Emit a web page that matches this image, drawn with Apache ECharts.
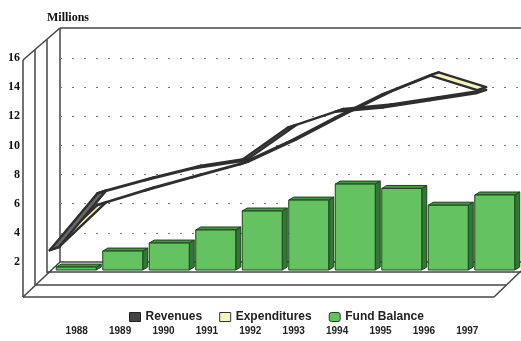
<!DOCTYPE html>
<html>
<head>
<meta charset="utf-8">
<script src="https://cdn.jsdelivr.net/npm/echarts@6/dist/echarts.min.js"></script>
<style>html,body{margin:0;padding:0;background:#fff}#c{width:521px;height:341px}</style>
</head>
<body>
<div id="c"></div>
<script>
// ---- data ----
const years = ['1988','1989','1990','1991','1992','1993','1994','1995','1996','1997'];
const revenues = [2.8, 6.7, 7.6, 8.4, 8.9, 11.2, 12.3, 12.6, 13.1, 13.6];
const expenditures = [2.8, 5.9, 6.9, 7.8, 8.7, 10.2, 11.9, 13.5, 14.8, 13.8];
const fundBalance = [0.2, 1.3, 1.85, 2.75, 4.05, 4.8, 5.9, 5.6, 4.45, 5.15];
const yMin = 2, yMax = 16, yStep = 2;
const unitLabel = 'Millions';

// ---- styles ----
const EDGE = '#444';
const ribbonDepth = [9, -3];
const barDepth = [5, -3];

function ribbon(values, fill) {
  return function (params, api) {
    const i = params.dataIndex;
    if (i >= values.length - 1) return { type: 'group', children: [] };
    const a = api.coord([i, values[i]]);
    const b = api.coord([i + 1, values[i + 1]]);
    const [dx, dy] = ribbonDepth;
    return {
      type: 'polygon',
      shape: { points: [a, b, [b[0] + dx, b[1] + dy], [a[0] + dx, a[1] + dy]] },
      style: { fill: fill, stroke: '#2e2e2e', lineWidth: 2.4, lineJoin: 'round' }
    };
  };
}

function box(params, api) {
  const i = api.value(0), v = api.value(1);
  const top = api.coord([i, v]), base = api.coord([i, 0]);
  const w = api.size([1, 0])[0] * 0.86;
  const xl = top[0] - w / 2, xr = top[0] + w / 2, yt = top[1], yb = base[1];
  const [dx, dy] = barDepth;
  const stroke = '#1f421f';
  return {
    type: 'group',
    children: [
      { type: 'polygon', shape: { points: [[xr, yt], [xr + dx, yt + dy], [xr + dx, yb + dy], [xr, yb]] },
        style: { fill: '#2e7a31', stroke: stroke, lineWidth: 1 } },
      { type: 'polygon', shape: { points: [[xl, yt], [xl + dx, yt + dy], [xr + dx, yt + dy], [xr, yt]] },
        style: { fill: '#3e9a41', stroke: stroke, lineWidth: 1 } },
      { type: 'rect', shape: { x: xl, y: yt, width: w, height: yb - yt },
        style: { fill: '#64c260', stroke: stroke, lineWidth: 1 } }
    ]
  };
}

function seg(x1, y1, x2, y2) {
  return { type: 'line', silent: true, z: 0, shape: { x1, y1, x2, y2 },
    style: { stroke: EDGE, lineWidth: 1.5 } };
}

const chart = echarts.init(document.getElementById('c'), null, { renderer: 'canvas' });
chart.setOption({
  animation: false,
  backgroundColor: '#fff',
  title: {
    text: unitLabel, left: 42, top: 7,
    textStyle: { fontFamily: 'Liberation Serif', fontWeight: 'bold', fontSize: 12, color: '#111' }
  },
  legend: {
    left: 124, top: 306, itemWidth: 11, itemHeight: 9, itemGap: 17, selectedMode: false,
    textStyle: { fontFamily: 'Liberation Sans', fontWeight: 'bold', fontSize: 12, color: '#222' },
    data: [
      { name: 'Revenues', icon: 'rect', itemStyle: { color: '#444', borderColor: '#222', borderWidth: 1 } },
      { name: 'Expenditures', icon: 'rect', itemStyle: { color: '#f4f4c0', borderColor: '#333', borderWidth: 1 } },
      { name: 'Fund Balance', icon: 'roundRect', itemStyle: { color: '#64c260', borderColor: '#1f421f', borderWidth: 1 } }
    ]
  },
  grid: [
    { left: 60, right: 0, top: 58, bottom: 79 },
    { left: 53, right: 3, top: 37, bottom: 71 },
    { left: 26, right: 20, top: 58, bottom: 50 },
    { left: 55, width: 434, top: 300, bottom: 17 }
  ],
  xAxis: [
    { gridIndex: 0, type: 'category', data: years, show: false },
    { gridIndex: 1, type: 'category', data: years, show: false },
    { gridIndex: 2, type: 'category', data: years, show: false },
    { gridIndex: 3, type: 'category', data: years, axisLine: { show: false }, axisTick: { show: false },
      axisLabel: { margin: 2, fontFamily: 'Liberation Sans', fontWeight: 'bold', fontSize: 10, color: '#222' } }
  ],
  yAxis: [
    { gridIndex: 0, type: 'value', min: yMin, max: yMax, interval: yStep,
      axisLine: { show: false }, axisTick: { show: false },
      axisLabel: { margin: 40, fontFamily: 'Liberation Serif', fontWeight: 'bold', fontSize: 12, color: '#111' },
      splitLine: { show: true, lineStyle: { color: '#777', width: 1, type: [2, 10] } } },
    { gridIndex: 1, type: 'value', min: 0, max: yMax, show: false, splitLine: { show: false } },
    { gridIndex: 2, type: 'value', min: 0, max: yMax, show: false, splitLine: { show: false } },
    { gridIndex: 3, type: 'value', show: false, splitLine: { show: false } }
  ],
  graphic: [
    seg(60, 28, 521, 28),
    seg(23, 60, 60, 28),
    seg(23, 60, 23, 297),
    seg(35, 50, 35, 285),
    seg(47, 39.5, 47, 273),
    seg(60, 28, 60, 262),
    seg(60, 262, 521, 262),
    seg(47, 272, 521, 272),
    seg(35, 285, 506, 285),
    seg(23, 297, 494, 297),
    seg(23, 297, 60, 262),
    seg(494, 297, 521, 271)
  ],
  series: [
    { name: 'Fund Balance', type: 'custom', xAxisIndex: 1, yAxisIndex: 1, silent: true, z: 3,
      itemStyle: { color: '#64c260' },
      renderItem: box, data: fundBalance.map((v, i) => [i, v]) },
    { name: 'Expenditures', type: 'custom', xAxisIndex: 2, yAxisIndex: 2, silent: true, z: 4,
      itemStyle: { color: '#f4f4c0' },
      renderItem: ribbon(expenditures, '#f4f4c0'), data: expenditures.map((v, i) => [i, v]) },
    { name: 'Revenues', type: 'custom', xAxisIndex: 2, yAxisIndex: 2, silent: true, z: 5,
      itemStyle: { color: '#444' },
      renderItem: ribbon(revenues, '#666'), data: revenues.map((v, i) => [i, v]) }
  ]
});
</script>
</body>
</html>
